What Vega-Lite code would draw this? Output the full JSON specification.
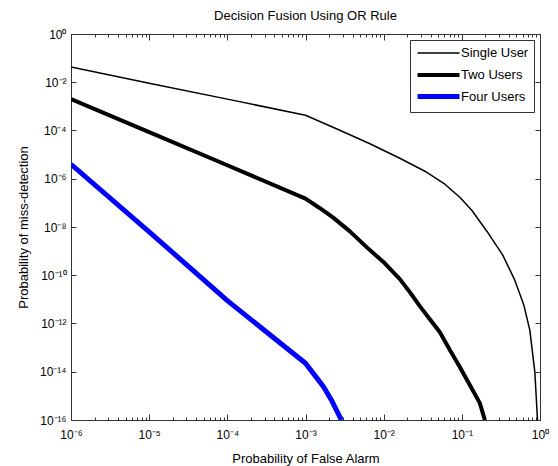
{
  "$schema": "https://vega.github.io/schema/vega-lite/v6.json",
  "autosize": "none",
  "padding": {"left": 71, "top": 34, "right": 18, "bottom": 46},
  "width": 469,
  "height": 386,
  "background": "white",
  "title": {"text": "Decision Fusion Using OR Rule", "font": "Liberation Sans", "fontSize": 13, "fontWeight": "normal", "frame": "group", "anchor": "middle", "baseline": "alphabetic", "offset": -5, "color": "#000"},
  "data": {"values": [
    {"s": "Single User", "pf": 1e-6, "pm": 0.0427},
    {"s": "Single User", "pf": 1e-5, "pm": 0.00912},
    {"s": "Single User", "pf": 1e-4, "pm": 0.002},
    {"s": "Single User", "pf": 1e-3, "pm": 4.27e-4},
    {"s": "Single User", "pf": 0.00275, "pm": 1.02e-4},
    {"s": "Single User", "pf": 0.00667, "pm": 2.81e-5},
    {"s": "Single User", "pf": 0.0161, "pm": 7.06e-6},
    {"s": "Single User", "pf": 0.0337, "pm": 2.05e-6},
    {"s": "Single User", "pf": 0.0607, "pm": 5.92e-7},
    {"s": "Single User", "pf": 0.0942, "pm": 1.71e-7},
    {"s": "Single User", "pf": 0.134, "pm": 4.97e-8},
    {"s": "Single User", "pf": 0.209, "pm": 6.7e-9},
    {"s": "Single User", "pf": 0.334, "pm": 6.79e-10},
    {"s": "Single User", "pf": 0.476, "pm": 6.27e-11},
    {"s": "Single User", "pf": 0.621, "pm": 5.78e-12},
    {"s": "Single User", "pf": 0.741, "pm": 5.33e-13},
    {"s": "Single User", "pf": 0.859, "pm": 9.73e-15},
    {"s": "Single User", "pf": 0.929, "pm": 1e-16},
    {"s": "Two Users", "pf": 1e-6, "pm": 0.002},
    {"s": "Two Users", "pf": 1e-5, "pm": 8.5e-5},
    {"s": "Two Users", "pf": 1e-4, "pm": 3.63e-6},
    {"s": "Two Users", "pf": 1e-3, "pm": 1.51e-7},
    {"s": "Two Users", "pf": 0.00153, "pm": 6.0e-8},
    {"s": "Two Users", "pf": 0.00224, "pm": 2.5e-8},
    {"s": "Two Users", "pf": 0.0037, "pm": 6.58e-9},
    {"s": "Two Users", "pf": 0.0061, "pm": 1.43e-9},
    {"s": "Two Users", "pf": 0.01035, "pm": 3.11e-10},
    {"s": "Two Users", "pf": 0.0161, "pm": 6.9e-11},
    {"s": "Two Users", "pf": 0.0216, "pm": 2.0e-11},
    {"s": "Two Users", "pf": 0.029, "pm": 5.25e-12},
    {"s": "Two Users", "pf": 0.039, "pm": 1.51e-12},
    {"s": "Two Users", "pf": 0.0524, "pm": 4.37e-13},
    {"s": "Two Users", "pf": 0.0703, "pm": 7.9e-14},
    {"s": "Two Users", "pf": 0.0942, "pm": 1.58e-14},
    {"s": "Two Users", "pf": 0.1265, "pm": 2.8e-15},
    {"s": "Two Users", "pf": 0.17, "pm": 5.0e-16},
    {"s": "Two Users", "pf": 0.197, "pm": 1e-16},
    {"s": "Four Users", "pf": 1e-6, "pm": 3.98e-6},
    {"s": "Four Users", "pf": 1e-5, "pm": 6.31e-9},
    {"s": "Four Users", "pf": 1e-4, "pm": 8.91e-12},
    {"s": "Four Users", "pf": 1e-3, "pm": 2.24e-14},
    {"s": "Four Users", "pf": 0.00128, "pm": 7.98e-15},
    {"s": "Four Users", "pf": 0.0017, "pm": 2.4e-15},
    {"s": "Four Users", "pf": 0.00218, "pm": 6.1e-16},
    {"s": "Four Users", "pf": 0.00288, "pm": 1e-16}
  ]},
  "resolve": {"axis": {"x": "independent", "y": "independent"}},
  "layer": [
    {
      "mark": {"type": "line", "clip": true, "strokeJoin": "round"},
      "encoding": {
        "x": {"field": "pf", "type": "quantitative",
          "scale": {"type": "log", "domain": [1e-6, 1], "nice": false},
          "axis": {"orient": "bottom", "title": "Probability of False Alarm",
            "values": [1e-6,2e-6,3e-6,4e-6,5e-6,6e-6,7e-6,8e-6,9e-6,1e-5,2e-5,3e-5,4e-5,5e-5,6e-5,7e-5,8e-5,9e-5,1e-4,2e-4,3e-4,4e-4,5e-4,6e-4,7e-4,8e-4,9e-4,1e-3,2e-3,3e-3,4e-3,5e-3,6e-3,7e-3,8e-3,9e-3,1e-2,2e-2,3e-2,4e-2,5e-2,6e-2,7e-2,8e-2,9e-2,1e-1,2e-1,3e-1,4e-1,5e-1,6e-1,7e-1,8e-1,9e-1,1],
            "labelExpr": "abs(log(datum.value)/LN10 - round(log(datum.value)/LN10)) < 0.001 ? '10' + (round(log(datum.value)/LN10) == 0 ? '⁰' : '⁻' + (round(-log(datum.value)/LN10) >= 10 ? '¹' : '') + ['⁰','¹','²','³','⁴','⁵','⁶','⁷','⁸','⁹'][round(-log(datum.value)/LN10) % 10]) : ''",
            "tickSize": {"condition": {"test": "abs(log(datum.value)/LN10 - round(log(datum.value)/LN10)) < 0.001", "value": -6}, "value": -3},
            "labelPadding": 15, "titleY": 42, "titleBaseline": "alphabetic"}},
        "y": {"field": "pm", "type": "quantitative",
          "scale": {"type": "log", "domain": [1e-16, 1], "nice": false},
          "axis": {"orient": "left", "title": "Probability of miss-detection",
            "values": [1,1e-2,1e-4,1e-6,1e-8,1e-10,1e-12,1e-14,1e-16],
            "labelExpr": "'10' + (round(log(datum.value)/LN10) == 0 ? '⁰' : '⁻' + (round(-log(datum.value)/LN10) >= 10 ? '¹' : '') + ['⁰','¹','²','³','⁴','⁵','⁶','⁷','⁸','⁹'][round(-log(datum.value)/LN10) % 10])",
            "tickSize": -5, "labelPadding": 10, "titleX": -44, "titleY": 193, "titleAngle": -90, "titleAlign": "center", "titleBaseline": "alphabetic"}},
        "color": {"field": "s", "type": "nominal", "title": null,
          "scale": {"domain": ["Single User", "Two Users", "Four Users"], "range": ["#000000", "#000000", "#0000ff"]}},
        "strokeWidth": {"field": "s", "type": "nominal", "title": null,
          "scale": {"type": "ordinal", "domain": ["Single User", "Two Users", "Four Users"], "range": [1.5, 4, 5]}}
      }
    },
    {
      "mark": {"type": "line", "opacity": 0},
      "encoding": {
        "detail": {"field": "s"},
        "x": {"field": "pf", "type": "quantitative",
          "scale": {"type": "log", "domain": [1e-6, 1], "nice": false},
          "axis": {"orient": "top", "title": null, "labels": false,
            "values": [1e-6,2e-6,3e-6,4e-6,5e-6,6e-6,7e-6,8e-6,9e-6,1e-5,2e-5,3e-5,4e-5,5e-5,6e-5,7e-5,8e-5,9e-5,1e-4,2e-4,3e-4,4e-4,5e-4,6e-4,7e-4,8e-4,9e-4,1e-3,2e-3,3e-3,4e-3,5e-3,6e-3,7e-3,8e-3,9e-3,1e-2,2e-2,3e-2,4e-2,5e-2,6e-2,7e-2,8e-2,9e-2,1e-1,2e-1,3e-1,4e-1,5e-1,6e-1,7e-1,8e-1,9e-1,1],
            "tickSize": {"condition": {"test": "abs(log(datum.value)/LN10 - round(log(datum.value)/LN10)) < 0.001", "value": -6}, "value": -3}}},
        "y": {"field": "pm", "type": "quantitative",
          "scale": {"type": "log", "domain": [1e-16, 1], "nice": false},
          "axis": {"orient": "right", "title": null, "labels": false,
            "values": [1,1e-2,1e-4,1e-6,1e-8,1e-10,1e-12,1e-14,1e-16], "tickSize": -5}}
      }
    }
  ],
  "config": {
    "view": {"stroke": "#333"},
    "axis": {"grid": false, "domainColor": "#333", "tickColor": "#333", "domainWidth": 1, "tickWidth": 1,
      "labelFont": "Liberation Sans", "labelFontSize": 12, "labelColor": "#000", "labelOverlap": false, "labelFlush": false, "labelBound": false,
      "titleFont": "Liberation Sans", "titleFontSize": 13, "titleFontWeight": "normal", "titleColor": "#000"},
    "legend": {"orient": "top-right", "offset": 6, "padding": 5, "strokeColor": "#333", "fillColor": "#fff",
      "labelFont": "Liberation Sans", "labelFontSize": 13, "labelColor": "#000",
      "symbolType": "M-1,0H5", "symbolSize": 196, "labelOffset": 27, "rowPadding": 0, "gridAlign": "all"}
  }
}
